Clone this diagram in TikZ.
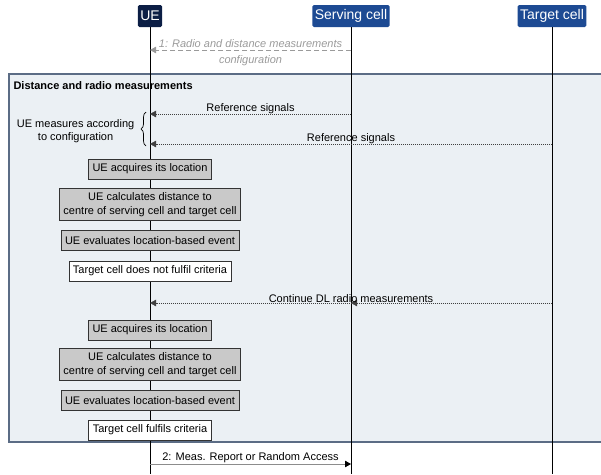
\documentclass[tikz,border=0pt]{standalone}
\usepackage{fontspec}
\setmainfont{Liberation Sans}
\usetikzlibrary{arrows.meta,decorations.pathreplacing}
\definecolor{uenavy}{HTML}{0C1E45}
\definecolor{cellblue}{HTML}{1D4A93}
\definecolor{framefill}{HTML}{EBF0F4}
\definecolor{frameline}{HTML}{5B6C85}
\definecolor{stepgray}{HTML}{C9C9C9}
\definecolor{cfggray}{HTML}{9A9A9A}
\tikzset{>={Triangle[length=6pt,width=6.5pt]}}
\tikzset{
	head/.style={fill=cellblue, text=white, rounded corners=1.5pt,
			font=\fontsize{14}{16}\selectfont, inner xsep=2.5pt, inner ysep=2pt, minimum height=22pt},
	action/.style={draw=black!80, fill=stepgray, line width=0.8pt, align=center,
			font=\fontsize{11}{13.5}\selectfont, inner xsep=4pt, inner ysep=4.5pt, minimum height=20pt},
	verdict/.style={action, fill=white},
	sig/.style={draw=black!75, dash pattern=on 1pt off 1pt, ->},
	lbl/.style={font=\fontsize{11}{13.5}\selectfont, inner sep=0.5pt}
}

\begin{document}
\begin{tikzpicture}[x=1pt,y=-1pt]
	\useasboundingbox (0,0) rectangle (601,474);

	% measurement frame
	\draw[frameline, fill=framefill, line width=1.1pt] (9,74) rectangle (612,442);
	\node[anchor=west, font=\fontsize{11}{13.5}\selectfont\bfseries] (ttl) at (10,85.5) {Distance and radio measurements};

	\node[head, fill=uenavy] (hUE) at (150,16) {UE};
	\node[head] (hSC) at (351,16) {Serving cell};
	\node[head] (hTC) at (552,16) {Target cell};

	\coordinate (bot) at (0,474);
	\coordinate (r1) at (0,50);
	\coordinate (r2) at (0,114);
	\coordinate (r3) at (0,144);
	\coordinate (r4) at (0,303);
	\coordinate (r5) at (0,464);

	% lifelines
	\draw[line width=0.8pt] (hUE.south) -- (hUE.south |- bot);
	\draw[line width=0.8pt] (hSC.south) -- (hSC.south |- bot);
	\draw[line width=0.8pt] (hTC.south) -- (hTC.south |- bot);

	\draw[cfggray, dash pattern=on 5pt off 3pt, line width=0.8pt, ->] (hSC |- r1) -- (hUE |- r1)
		node[midway, yshift=-2.5pt, text=cfggray, align=center, font=\fontsize{11}{16}\selectfont\itshape] {1: Radio and distance measurements\\configuration};

	\draw[sig] (hSC |- r2) -- (hUE |- r2) node[midway, above, lbl] {Reference signals};
	\draw[sig] (hTC |- r3) -- (hUE |- r3) node[midway, above, lbl] {Reference signals};

	\coordinate (bb) at (146,146);
	\coordinate (bt) at (146,112);
	\draw[decorate, decoration={brace, amplitude=5pt}, line width=0.7pt] (bb) -- (bt);
	\node[lbl, align=center, anchor=east] (meas) at (135,131) {UE measures according\\to configuration};

	\node[action] (acq1) at (150,169) {UE acquires its location};
	\node[action] (calc1) at (150,204.5) {UE calculates distance to\\centre of serving cell and target cell};
	\node[action] (eval1) at (150,240.5) {UE evaluates location-based event};
	\node[verdict] (nok) at (150,271) {Target cell does not fulfil criteria};

	\draw[sig] (hTC |- r4) -- (hSC |- r4);
	\draw[sig] (hTC |- r4) -- (hUE |- r4) node[midway, above, lbl] {Continue DL radio measurements};

	\node[action] (acq2) at (150,330) {UE acquires its location};
	\node[action] (calc2) at (150,364.5) {UE calculates distance to\\centre of serving cell and target cell};
	\node[action] (eval2) at (150,400.5) {UE evaluates location-based event};
	\node[verdict] (ok) at (150,430) {Target cell fulfils criteria};

	\draw[black!45, line width=0.8pt, -{Triangle[length=6pt,width=6.5pt,color=black]}] (hUE |- r5) -- (hSC |- r5)
		node[midway, above, lbl, text=black] {2: Meas. Report or Random Access};
\end{tikzpicture}
\end{document}
